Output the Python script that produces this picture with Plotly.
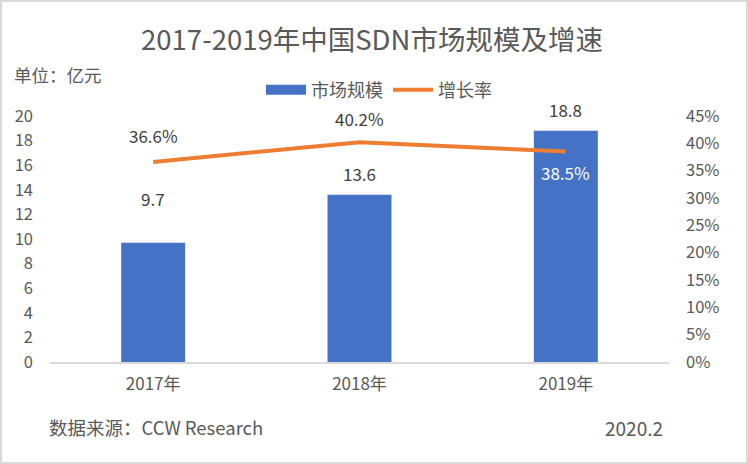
import plotly.graph_objects as go

categories = ["2017年", "2018年", "2019年"]
market_size = [9.7, 13.6, 18.8]
growth_rate = [0.366, 0.402, 0.385]
left_ticks = [0, 2, 4, 6, 8, 10, 12, 14, 16, 18, 20]
right_ticks = [0, 0.05, 0.10, 0.15, 0.20, 0.25, 0.30, 0.35, 0.40, 0.45]

W, H = 748, 464
L, R, T, B = 50, 669, 116, 362  # plot area px


def px(x):
    return (x - L) / (R - L)


def py(y):
    return (B - y) / (B - T)


FONT = "Noto Sans CJK SC"
GRAY = "#595959"
BLUE = "#4472C4"
ORANGE = "#ED7D31"

fig = go.Figure()
fig.add_trace(go.Bar(
    x=categories, y=market_size, name="市场规模", showlegend=False,
    marker=dict(color=BLUE, line=dict(width=0)), width=0.31,
    yaxis="y",
))
# legend entry for the bars, drawn as a wide swatch like the reference
fig.add_trace(go.Scatter(
    x=[None], y=[None], name="市场规模", mode="lines",
    line=dict(color=BLUE, width=11), yaxis="y", hoverinfo="skip",
))
fig.add_trace(go.Scatter(
    x=categories, y=growth_rate, name="增长率", mode="lines",
    line=dict(color=ORANGE, width=4), yaxis="y2",
))

annotations = []
bar_shift = [44, 21, 21]
for c, v, s in zip(categories, market_size, bar_shift):
    annotations.append(dict(x=c, y=v, xref="x", yref="y", text=f"{v:.1f}",
                            showarrow=False, yshift=s,
                            font=dict(family=FONT, size=17, color="#404040")))
line_shift = [26, 24, -21]
line_color = ["#404040", "#404040", "#FFFFFF"]
for c, v, s, col in zip(categories, growth_rate, line_shift, line_color):
    annotations.append(dict(x=c, y=v, xref="x", yref="y2", text=f"{v*100:.1f}%",
                            showarrow=False, yshift=s,
                            font=dict(family=FONT, size=17, color=col)))

annotations += [
    dict(x=px(12), y=py(75), xref="paper", yref="paper", text="单位：亿元",
         showarrow=False, xanchor="left", yanchor="middle",
         font=dict(family=FONT, size=17.5, color=GRAY)),
    dict(x=px(47), y=py(427), xref="paper", yref="paper", text="数据来源：CCW Research",
         showarrow=False, xanchor="left", yanchor="middle",
         font=dict(family=FONT, size=18.5, color=GRAY)),
    dict(x=px(665), y=py(427), xref="paper", yref="paper", text="2020.2",
         showarrow=False, xanchor="right", yanchor="middle",
         font=dict(family=FONT, size=19, color=GRAY)),
]

shapes = [dict(type="rect", xref="paper", yref="paper",
               x0=px(1), x1=px(747), y0=py(463), y1=py(1),
               line=dict(color="#D9D9D9", width=2), fillcolor="rgba(0,0,0,0)",
               layer="below")]

fig.update_layout(
    width=W, height=H,
    margin=dict(l=L, r=W - R, t=T, b=H - B, pad=0),
    paper_bgcolor="white", plot_bgcolor="white",
    font=dict(family=FONT, color=GRAY),
    title=dict(text="2017-2019年中国SDN市场规模及增速", x=372 / W, y=1 - 40 / H,
               xanchor="center", yanchor="middle",
               font=dict(family=FONT, size=27.5, color=GRAY)),
    showlegend=True,
    legend=dict(orientation="h", x=px(379), y=py(90), xanchor="center", yanchor="middle",
                font=dict(family=FONT, size=18, color=GRAY), itemwidth=40,
                bgcolor="rgba(0,0,0,0)"),
    xaxis=dict(showgrid=False, showline=True, linecolor="#D9D9D9", linewidth=1.5,
               ticks="", tickfont=dict(family=FONT, size=17, color=GRAY),
               ticklabelstandoff=6),
    yaxis=dict(range=[0, 20], tickvals=left_ticks, showgrid=False, zeroline=False,
               showline=False, ticks="", ticklabelstandoff=16,
               tickfont=dict(family=FONT, size=16.5, color=GRAY)),
    yaxis2=dict(range=[0, 0.45], tickvals=right_ticks, tickformat=".0%",
                overlaying="y", side="right", showgrid=False, zeroline=False,
                showline=False, ticks="", ticklabelstandoff=16,
                tickfont=dict(family=FONT, size=16.5, color=GRAY)),
    annotations=annotations,
    shapes=shapes,
)

fig.write_html("out.html", config={"displayModeBar": False},
               post_script="document.body.style.margin='0';")
